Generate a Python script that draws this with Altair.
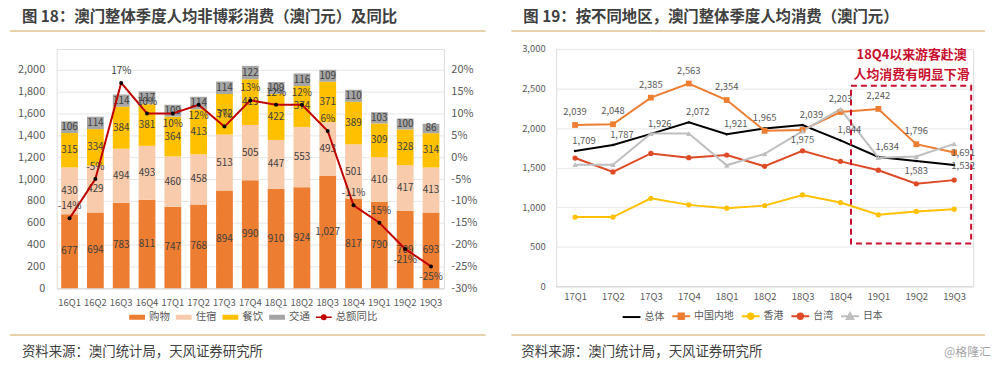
import altair as alt
import pandas as pd

FONT = "Noto Sans CJK SC"
TXT = "#404040"
AX = "#595959"

# ---------------- left panel data ----------------
title_l = "图 18：澳门整体季度人均非博彩消费（澳门元）及同比"
source_txt = "资料来源：澳门统计局，天风证券研究所"
quarters_l = ["16Q1", "16Q2", "16Q3", "16Q4", "17Q1", "17Q2", "17Q3", "17Q4",
              "18Q1", "18Q2", "18Q3", "18Q4", "19Q1", "19Q2", "19Q3"]
shopping = [677, 694, 783, 811, 747, 768, 894, 990, 910, 924, 1027, 817, 790, 709, 693]
lodging = [430, 429, 494, 493, 460, 458, 513, 505, 447, 553, 493, 501, 410, 417, 413]
food = [315, 334, 384, 381, 364, 413, 372, 419, 422, 374, 371, 389, 309, 328, 314]
transport = [106, 114, 114, 117, 109, 114, 114, 122, 109, 116, 109, 110, 103, 100, 86]
yoy = [-14, -5, 17, 10, 10, 12, 7, 13, 12, 12, 6, -11, -15, -21, -25]
cats_l = ["购物", "住宿", "餐饮", "交通"]
colors_l = ["#ED7D31", "#F8CBAD", "#FFC000", "#A5A5A5"]
yoy_name = "总额同比"
yoy_color = "#C00000"
yoy_below = ["17Q1", "17Q2", "19Q2", "19Q3"]

# ---------------- right panel data ----------------
title_r = "图 19：按不同地区，澳门整体季度人均消费（澳门元）"
watermark = "@格隆汇"
note_1 = "18Q4以来游客赴澳"
note_2 = "人均消费有明显下滑"
quarters_r = ["17Q1", "17Q2", "17Q3", "17Q4", "18Q1", "18Q2", "18Q3", "18Q4", "19Q1", "19Q2", "19Q3"]
overall = [1709, 1787, 1926, 2072, 1921, 1995, 2039, 1844, 1634, 1583, 1532]
mainland = [2039, 2048, 2385, 2563, 2354, 1965, 1975, 2203, 2242, 1796, 1691]
hongkong = [875, 875, 1112, 1029, 987, 1020, 1154, 1058, 904, 946, 975]
taiwan = [1621, 1446, 1679, 1625, 1658, 1517, 1712, 1579, 1467, 1296, 1342]
japan = [1537, 1537, 1930, 1930, 1529, 1675, 1960, 2240, 1625, 1640, 1800]
series_r = ["总体", "中国内地", "香港", "台湾", "日本"]
colors_r = ["#000000", "#ED7D31", "#FFC000", "#DE4A26", "#BFBFBF"]
shapes_r = ["circle", "square", "circle", "circle", "triangle-up"]
sizes_r = [6, 34, 28, 28, 30]
lab_below = ["总体|19Q2", "中国内地|18Q3"]
lab_right = ["总体|19Q3", "中国内地|19Q3"]
lab_hidden = ["总体|18Q2"]

# ---------------- frames ----------------
rows = []
for i, q in enumerate(quarters_l):
    for j, (c, vals) in enumerate(zip(cats_l, [shopping, lodging, food, transport])):
        rows.append({"quarter": q, "cat": c, "value": vals[i], "order": j})
df_l = pd.DataFrame(rows)
df_yoy = pd.DataFrame({"quarter": quarters_l, "yoy": yoy})

rows = []
for s, vals in zip(series_r, [overall, mainland, hongkong, taiwan, japan]):
    for q, v in zip(quarters_r, vals):
        rows.append({"series": s, "quarter": q, "value": v, "key": s + "|" + q})
df_r = pd.DataFrame(rows)

one = pd.DataFrame({"a": [0]})


def deco_text(txt, x, y, **kw):
    return alt.Chart(one).mark_text(font=FONT, **kw).encode(
        x=alt.value(x), y=alt.value(y), text=alt.value(txt))


def deco_rule(x, x2, y, color="#E6D3AE", width=2):
    return alt.Chart(one).mark_rule(color=color, strokeWidth=width).encode(
        x=alt.value(x), x2=alt.value(x2), y=alt.value(y))


# ---------------- left panel ----------------
# both panels share the same group origin (plot top of the right panel);
# the left plot starts 21px lower, through the y range.
W1, H1 = 390, 241
YTOP1 = 21
xl = alt.X("quarter:N", sort=quarters_l,
           scale=alt.Scale(paddingInner=0.35, paddingOuter=0.175),
           axis=alt.Axis(title=None, labelAngle=0, ticks=False, tickSize=0,
                         domainColor="#D9D9D9", labelColor=AX, labelFontSize=9.5,
                         labelPadding=9, labelFont=FONT, labelOverlap=False))

stacked = alt.Chart(df_l).transform_stack(
    stack="value", groupby=["quarter"], sort=[alt.SortField("order", order="ascending")],
    as_=["v0", "v1"]).transform_calculate(mid="(datum.v0 + datum.v1) / 2")

yl_scale = alt.Scale(domain=[0, 2000], range=[H1, YTOP1])
yl_axis = alt.Axis(title=None, values=list(range(0, 2001, 200)), format=",.0f",
                   ticks=False, tickSize=0, domain=False, gridColor="#E6E6E6",
                   labelColor=AX, labelFontSize=11, labelPadding=12, labelFont=FONT)
bars = stacked.mark_bar().encode(
    x=xl,
    y=alt.Y("v0:Q", scale=yl_scale, axis=yl_axis),
    y2="v1:Q",
    color=alt.Color("cat:N", scale=alt.Scale(domain=cats_l, range=colors_l), legend=None),
)
bar_labels = stacked.mark_text(font=FONT, fontSize=10, color=TXT).encode(
    x=xl, y=alt.Y("mid:Q", scale=yl_scale, axis=yl_axis), text=alt.Text("value:Q", format=","))
left_bars = alt.layer(bars, bar_labels)

yr = alt.Y("yoy:Q", scale=alt.Scale(domain=[-30, 20], range=[H1, YTOP1]),
           axis=alt.Axis(orient="right", title=None, values=list(range(-30, 21, 5)),
                         labelExpr="datum.value + '%'", ticks=False, tickSize=0, domain=False,
                         grid=False, labelColor=AX, labelFontSize=11, labelPadding=7,
                         labelFont=FONT))
yoy_base = alt.Chart(df_yoy).transform_calculate(lab="datum.yoy + '%'")
yoy_line = yoy_base.mark_line(color=yoy_color, strokeWidth=2).encode(x=xl, y=yr)
yoy_pts = yoy_base.mark_point(filled=True, color="#000000", size=16, opacity=1).encode(x=xl, y=yr)
yoy_up = yoy_base.transform_filter(
    {"not": alt.FieldOneOfPredicate(field="quarter", oneOf=yoy_below)}
).mark_text(font=FONT, fontSize=10, color=TXT, dy=-12).encode(x=xl, y=yr, text="lab:N")
yoy_dn = yoy_base.transform_filter(
    alt.FieldOneOfPredicate(field="quarter", oneOf=yoy_below)
).mark_text(font=FONT, fontSize=10, color=TXT, dy=11).encode(x=xl, y=yr, text="lab:N")
left_line = alt.layer(yoy_line, yoy_pts, yoy_up, yoy_dn)

leg_names_l = cats_l + [yoy_name]
leg_cols_l = colors_l + [yoy_color]
rect_path = "M-0.9,-0.22H0.9V0.22H-0.9Z"
line_dot = "M-1,0H1M0.28,0A0.28,0.28 0 1 1 -0.28,0A0.28,0.28 0 1 1 0.28,0Z"
leg_paths_l = [rect_path] * 4 + [line_dot]
legend_l = alt.Legend(title=None, orient="none", legendX=72, legendY=261, direction="horizontal",
                      symbolSize=256, symbolStrokeWidth=1.5, labelFontSize=10.5, labelFont=FONT,
                      labelColor=AX, columnPadding=3, labelOffset=3)
leg_l = alt.Chart(pd.DataFrame({"k": leg_names_l})).transform_filter("false").mark_point(
    filled=True, opacity=1).encode(
    fill=alt.Fill("k:N", scale=alt.Scale(domain=leg_names_l, range=leg_cols_l), legend=legend_l),
    stroke=alt.Stroke("k:N", scale=alt.Scale(domain=leg_names_l, range=leg_cols_l), legend=legend_l),
    shape=alt.Shape("k:N", scale=alt.Scale(domain=leg_names_l, range=leg_paths_l), legend=legend_l),
)

left = alt.layer(
    left_bars, left_line, leg_l,
    deco_text(title_l, -35, -32, fontSize=15.5, fontWeight="bold", color=TXT, align="left", baseline="middle"),
    deco_rule(-47, 432, -18),
    deco_rule(-47, 432, 288),
    deco_text(source_txt, -35, 305, fontSize=13.5, color=TXT, align="left", baseline="middle"),
).resolve_scale(y="independent").properties(width=W1, height=H1)

# ---------------- right panel ----------------
W2, H2 = 420, 239
xr = alt.X("quarter:N", sort=quarters_r, scale=alt.Scale(type="point", padding=0.5),
           axis=alt.Axis(title=None, labelAngle=0, ticks=False, tickSize=0,
                         domainColor="#D9D9D9", labelColor=AX, labelFontSize=9.5,
                         labelPadding=5, labelFont=FONT))
yr2 = alt.Y("value:Q", scale=alt.Scale(domain=[0, 3000]),
            axis=alt.Axis(title=None, values=list(range(0, 3001, 500)), format=",.0f",
                          ticks=False, tickSize=0, domain=False, gridColor="#E9E9E9",
                          labelColor=AX, labelFontSize=9.5, labelPadding=11, labelFont=FONT))
base_r = alt.Chart(df_r)

series_layers = []
for s, c in zip(series_r, colors_r):
    sub = base_r.transform_filter(alt.FieldEqualPredicate(field="series", equal=s))
    series_layers.append(sub.mark_line(strokeWidth=2, color=c).encode(x=xr, y=yr2))
for s, c, shp, sz in zip(series_r, colors_r, shapes_r, sizes_r):
    sub = base_r.transform_filter(alt.FieldEqualPredicate(field="series", equal=s))
    series_layers.append(sub.mark_point(shape=shp, filled=True, opacity=1, size=sz, color=c).encode(x=xr, y=yr2))

special = lab_below + lab_right + lab_hidden
lab_kw = dict(font=FONT, fontSize=9.5, color=AX)
lab_black = base_r.transform_filter(
    {"and": [alt.FieldEqualPredicate(field="series", equal="总体"),
             {"not": alt.FieldOneOfPredicate(field="key", oneOf=special)}]}
).mark_text(dx=9, dy=-10, **lab_kw).encode(x=xr, y=yr2, text=alt.Text("value:Q", format=","))
lab_orange = base_r.transform_filter(
    {"and": [alt.FieldEqualPredicate(field="series", equal="中国内地"),
             {"not": alt.FieldOneOfPredicate(field="key", oneOf=special)}]}
).mark_text(dy=-13, **lab_kw).encode(x=xr, y=yr2, text=alt.Text("value:Q", format=","))
lab_dn = base_r.transform_filter(alt.FieldOneOfPredicate(field="key", oneOf=lab_below)).mark_text(
    dy=10, **lab_kw).encode(x=xr, y=yr2, text=alt.Text("value:Q", format=","))
lab_rt = base_r.transform_filter(alt.FieldOneOfPredicate(field="key", oneOf=lab_right)).mark_text(
    dx=9, dy=1, **lab_kw).encode(x=xr, y=yr2, text=alt.Text("value:Q", format=","))

p_line = "M-1,0H1"
p_sq = "M-1,0H1M-0.3,-0.3H0.3V0.3H-0.3Z"
p_ci = "M-1,0H1M0.3,0A0.3,0.3 0 1 1 -0.3,0A0.3,0.3 0 1 1 0.3,0Z"
p_tr = "M-1,0H1M0,-0.36L0.36,0.3H-0.36Z"
leg_paths_r = [p_line, p_sq, p_ci, p_ci, p_tr]
legend_r = alt.Legend(title=None, orient="none", legendX=66, legendY=259, direction="horizontal",
                      symbolSize=324, symbolStrokeWidth=2, labelFontSize=10, labelFont=FONT,
                      labelColor=AX, columnPadding=4, labelOffset=3)
leg_r = alt.Chart(pd.DataFrame({"k": series_r})).transform_filter("false").mark_point(
    filled=True, opacity=1).encode(
    fill=alt.Fill("k:N", scale=alt.Scale(domain=series_r, range=colors_r), legend=legend_r),
    stroke=alt.Stroke("k:N", scale=alt.Scale(domain=series_r, range=colors_r), legend=legend_r),
    shape=alt.Shape("k:N", scale=alt.Scale(domain=series_r, range=leg_paths_r), legend=legend_r),
)

box = alt.Chart(one).mark_rect(fillOpacity=0, stroke="#C8102E", strokeWidth=2, strokeDash=[6, 4]).encode(
    x=alt.value(297), x2=alt.value(418), y=alt.value(37), y2=alt.value(196))

right = alt.layer(
    *series_layers, lab_black, lab_orange, lab_dn, lab_rt, leg_r, box,
    deco_text(note_1, 358, 6, fontSize=13, fontWeight="bold", color="#C8102E", align="center", baseline="middle"),
    deco_text(note_2, 358, 26, fontSize=13, fontWeight="bold", color="#C8102E", align="center", baseline="middle"),
    deco_text(title_r, -33, -32, fontSize=15.5, fontWeight="bold", color=TXT, align="left", baseline="middle"),
    deco_rule(-45, 432, -18),
    deco_rule(-45, 432, 288),
    deco_text(source_txt, -35, 305, fontSize=13.5, color=TXT, align="left", baseline="middle"),
    deco_text(watermark, 438, 305, fontSize=12, color="#A6A6A6", align="right", baseline="middle"),
).properties(width=W2, height=H2)

chart = alt.hconcat(left, right, spacing=22).resolve_scale(
    x="independent", y="independent", color="independent", fill="independent",
    stroke="independent", shape="independent"
).resolve_legend(
    color="independent", fill="independent", stroke="independent", shape="independent"
).properties(
    padding=0, background="white"
).configure_view(stroke=None).configure(font=FONT)

chart.save("out.html", embed_options={"renderer": "svg", "actions": False})
